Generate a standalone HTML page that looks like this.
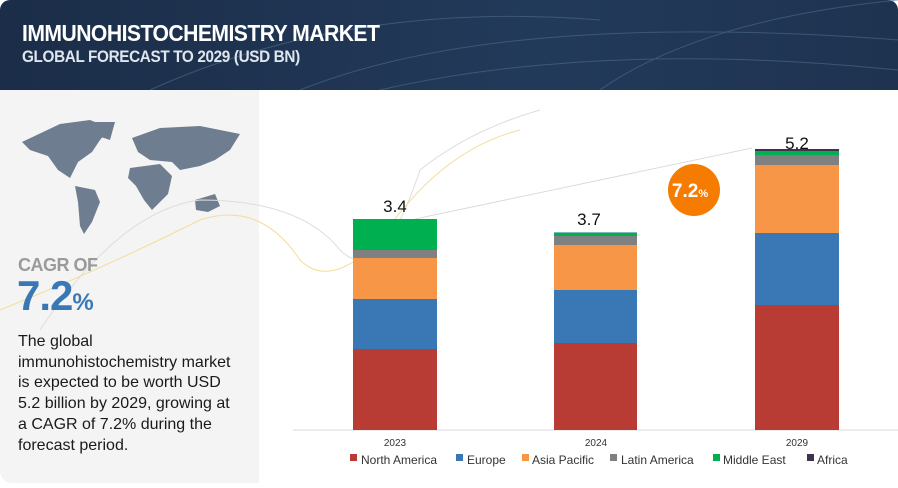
<!DOCTYPE html>
<html><head><meta charset="utf-8"><style>
body{margin:0;width:898px;height:488px;overflow:hidden;background:#fff;font-family:"Liberation Sans",sans-serif;position:relative}
.a{position:absolute}
</style></head><body>
<div class="a" style="left:0;top:0;width:898px;height:90px;background:linear-gradient(90deg,#1b2d48,#223a5a 60%,#1e3350);border-radius:10px 10px 0 0"></div>
<svg class="a" style="left:0;top:0" width="898" height="90"><g fill="none" stroke="#4f6d8f" stroke-width="1" opacity=".6"><path d="M150 90 Q350 0 600 20"/><path d="M300 90 Q500 10 900 40"/><path d="M600 90 Q700 20 898 0"/><path d="M380 90 Q600 40 898 70"/></g></svg>
<div class="a" style="left:22px;top:20px;color:#fff;font-weight:bold;font-size:23px;letter-spacing:-0.6px;transform:scaleX(.92);transform-origin:left">IMMUNOHISTOCHEMISTRY MARKET</div>
<div class="a" style="left:22px;top:47px;color:#dfe6ee;font-weight:bold;font-size:17px;letter-spacing:-0.4px;transform:scaleX(.9);transform-origin:left">GLOBAL FORECAST TO 2029 (USD BN)</div>
<div class="a" style="left:0;top:90px;width:259px;height:393px;background:#f4f4f4;border-radius:0 0 0 12px"></div>
<svg class="a" style="left:0;top:90px" width="898" height="398">
<g fill="#6e7d90">
<path d="M22 52 L60 34 L90 30 L110 38 L100 50 L92 62 L78 72 L70 88 L58 80 L48 66 L30 60Z"/>
<path d="M92 32 L115 32 L110 50 L98 46Z"/>
<path d="M75 96 L95 100 L100 112 L92 132 L84 144 L80 136 L78 112Z"/>
<path d="M132 48 L160 38 L200 36 L240 44 L230 60 L215 70 L200 76 L180 80 L172 72 L150 70 L138 62Z"/>
<path d="M130 78 L160 74 L172 86 L168 104 L152 120 L144 110 L136 96 L128 88Z"/>
<path d="M195 110 L215 104 L220 116 L208 122 L196 120Z"/>
</g>
<g fill="none" stroke-width="1"><path d="M40 240 Q120 120 200 110 Q300 110 340 160 Q380 200 420 80 Q470 40 540 20" stroke="#dddddd"/><path d="M0 220 Q100 180 200 130 Q260 110 300 170 Q330 200 380 150 Q440 60 520 40" stroke="#f2dd99"/></g>
<line x1="415" y1="129" x2="752" y2="58" stroke="#dcdcdc"/>
</svg>
<div class="a" style="left:18px;top:256px;color:#9a9a9a;font-weight:bold;font-size:18px;line-height:18px;letter-spacing:-0.5px">CAGR OF</div>
<div class="a" style="left:17px;top:275px;color:#3a78b5;font-weight:bold;font-size:42px;line-height:42px;letter-spacing:-1px">7.2<span style="font-size:24px">%</span></div>
<div class="a" style="left:18px;top:332px;color:#1a1a1a;font-size:16px;line-height:20.7px;width:240px">The global<br>immunohistochemistry market<br>is expected to be worth USD<br>5.2 billion by 2029, growing at<br>a CAGR of 7.2% during the<br>forecast period.</div>
<svg class="a" style="left:0;top:0" width="898" height="488">
<line x1="293" y1="430" x2="898" y2="430" stroke="#d9d9d9"/>
<g>
<rect x="353" y="219" width="84" height="31" fill="#00b050"/><rect x="353" y="250" width="84" height="8" fill="#808080"/><rect x="353" y="258" width="84" height="41" fill="#f79646"/><rect x="353" y="299" width="84" height="50" fill="#3a78b5"/><rect x="353" y="349" width="84" height="81" fill="#b83b34"/>
<rect x="554" y="232" width="83" height="2" fill="#7fb8b8"/><rect x="554" y="233" width="83" height="3" fill="#00b050"/><rect x="554" y="236" width="83" height="9" fill="#808080"/><rect x="554" y="245" width="83" height="45" fill="#f79646"/><rect x="554" y="290" width="83" height="53" fill="#3a78b5"/><rect x="554" y="343" width="83" height="87" fill="#b83b34"/>
<rect x="755" y="149" width="84" height="2" fill="#403151"/><rect x="755" y="151" width="84" height="4" fill="#00b050"/><rect x="755" y="155" width="84" height="10" fill="#808080"/><rect x="755" y="165" width="84" height="68" fill="#f79646"/><rect x="755" y="233" width="84" height="72" fill="#3a78b5"/><rect x="755" y="305" width="84" height="125" fill="#b83b34"/>
</g>
<circle cx="694" cy="190" r="26" fill="#f57c00"/>
<text x="690" y="197" fill="#fff" font-size="19" font-weight="bold" text-anchor="middle">7.2<tspan font-size="11">%</tspan></text>
<g font-size="17" fill="#111" text-anchor="middle"><text x="395" y="212">3.4</text><text x="589" y="225">3.7</text><text x="797" y="149">5.2</text></g>
<g font-size="10" fill="#333" text-anchor="middle"><text x="395" y="446">2023</text><text x="596" y="446">2024</text><text x="797" y="446">2029</text></g>
<g font-size="12" fill="#333">
<rect x="350" y="454" width="7" height="7" fill="#b83b34"/><text x="361" y="464">North America</text>
<rect x="456" y="454" width="7" height="7" fill="#3a78b5"/><text x="467" y="464">Europe</text>
<rect x="522" y="454" width="7" height="7" fill="#f79646"/><text x="532" y="464">Asia Pacific</text>
<rect x="610" y="454" width="7" height="7" fill="#808080"/><text x="621" y="464">Latin America</text>
<rect x="713" y="454" width="7" height="7" fill="#00b050"/><text x="723" y="464">Middle East</text>
<rect x="807" y="454" width="7" height="7" fill="#403151"/><text x="817" y="464">Africa</text>
</g>
</svg>
</body></html>
